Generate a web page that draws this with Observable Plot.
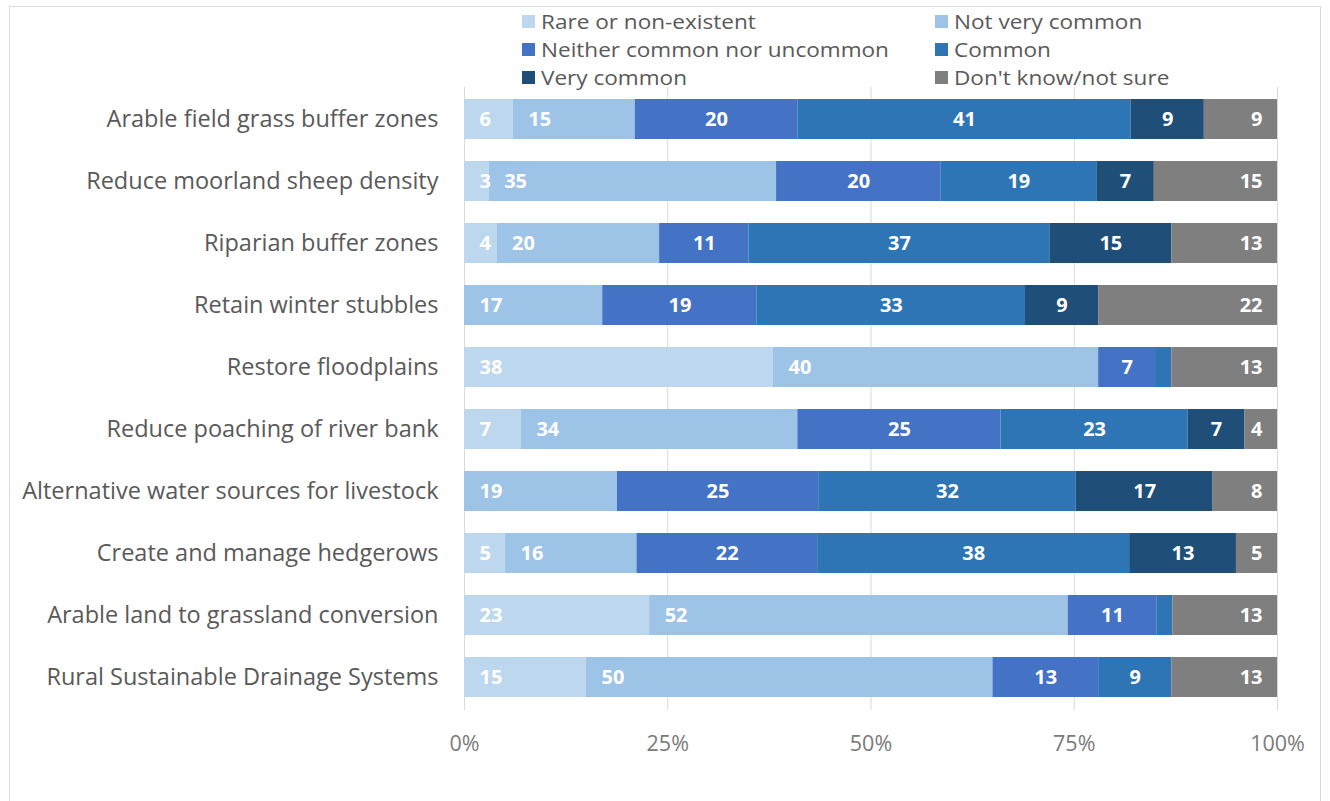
<!DOCTYPE html>
<html><head><meta charset="utf-8">
<script src="https://cdn.jsdelivr.net/npm/d3@7"></script>
<script src="https://cdn.jsdelivr.net/npm/@observablehq/plot@0.6"></script>
<style>
body{margin:0;background:#fff;font-family:"Open Sans",sans-serif;}
#frame{position:absolute;left:9px;top:6px;width:1310px;height:800px;border:1px solid #d9d9d9;background:#fff;}
#legend{position:relative;height:75px;}
.item{position:absolute;display:flex;align-items:center;height:28px;white-space:nowrap}
.sw{width:13px;height:13px;margin-right:6px;flex:none}
.lt{display:inline-block;font-size:20.5px;line-height:26px;color:#595959;transform:scaleX(1.1);transform-origin:0 50%}
</style></head><body><div id="frame"><div id="legend"></div><div id="chart"></div></div>
<script>
const tasks = [
  "Arable field grass buffer zones",
  "Reduce moorland sheep density",
  "Riparian buffer zones",
  "Retain winter stubbles",
  "Restore floodplains",
  "Reduce poaching of river bank",
  "Alternative water sources for livestock",
  "Create and manage hedgerows",
  "Arable land to grassland conversion",
  "Rural Sustainable Drainage Systems"
];
const cats = ["Rare or non-existent","Not very common","Neither common nor uncommon","Common","Very common","Don't know/not sure"];
const colors = ["#BDD7EE","#9DC3E6","#4472C4","#2E75B6","#1F4E79","#7F7F7F"];
const rare       = [6, 3, 4, 0, 38, 7, 0, 5, 23, 15];
const notVery    = [15,35,20,17,40,34,19,16,52,50];
const neither    = [20,20,11,19, 7,25,25,22,11,13];
const common     = [41,19,37,33, 2,23,32,38, 2, 9];
const veryCommon = [9, 7,15, 9, 0, 7,17,13, 0, 0];
const dontKnow   = [9,15,13,22,13, 4, 8, 5,13,13];
const xTicks = [0, 0.25, 0.5, 0.75, 1];

const series = [rare, notVery, neither, common, veryCommon, dontKnow];
const data = [];
tasks.forEach((t, i) => series.forEach((vals, j) => data.push({task: t, cat: cats[j], value: vals[i]})));

// legend
const legend = document.getElementById("legend");
const legendPos = [[512,0],[925,0],[512,28],[925,28],[512,56],[925,56]];
cats.forEach((c, i) => {
  const el = document.createElement("div");
  el.className = "item";
  el.style.left = legendPos[i][0] + "px";
  el.style.top = legendPos[i][1] + "px";
  el.innerHTML = `<span class="sw" style="background:${colors[i]}"></span><span class="lt"></span>`;
  el.lastChild.textContent = c;
  legend.appendChild(el);
});

const baseCats = new Set(cats.slice(0, 2));
const midCats = new Set(cats.slice(2, 5));
const endCat = cats[5];
const st = {x: "value", y: "task", z: "cat", order: cats, offset: "normalize"};
const lab = {fill: "white", fontWeight: "bold", fontSize: 20, fontFamily: "Open Sans"};

const chart = Plot.plot({
  width: 1310,
  height: 718,
  marginLeft: 454,
  marginRight: 43,
  marginTop: 5,
  marginBottom: 90,
  style: {fontFamily: "Open Sans", background: "white"},
  x: {domain: [0, 1]},
  y: {domain: tasks, paddingInner: 0.35, paddingOuter: 0.14},
  color: {domain: cats, range: colors},
  marks: [
    Plot.gridX(xTicks, {stroke: "#d9d9d9", strokeOpacity: 1, strokeWidth: 1}),
    Plot.barX(data, Plot.stackX({...st, fill: "cat"})),
    Plot.text(data, Plot.stackX1({...st, ...lab, text: d => baseCats.has(d.cat) && d.value >= 3 ? String(d.value) : null, textAnchor: "start", dx: 15})),
    Plot.text(data, Plot.stackX({...st, ...lab, text: d => midCats.has(d.cat) && d.value >= 3 ? String(d.value) : null})),
    Plot.text(data, Plot.stackX2({...st, ...lab, text: d => d.cat === endCat && d.value >= 3 ? String(d.value) : null, textAnchor: "end", dx: -15})),
    Plot.axisX({ticks: xTicks, tickFormat: d3.format(".0%"), tickSize: 0, tickPadding: 25, fontSize: 21.5, color: "#7a7a7a", label: null}),
    Plot.axisY({tickSize: 0, tickPadding: 26, fontSize: 23.5, color: "#595959", label: null})
  ]
});
document.getElementById("chart").appendChild(chart);
</script>
</body></html>
